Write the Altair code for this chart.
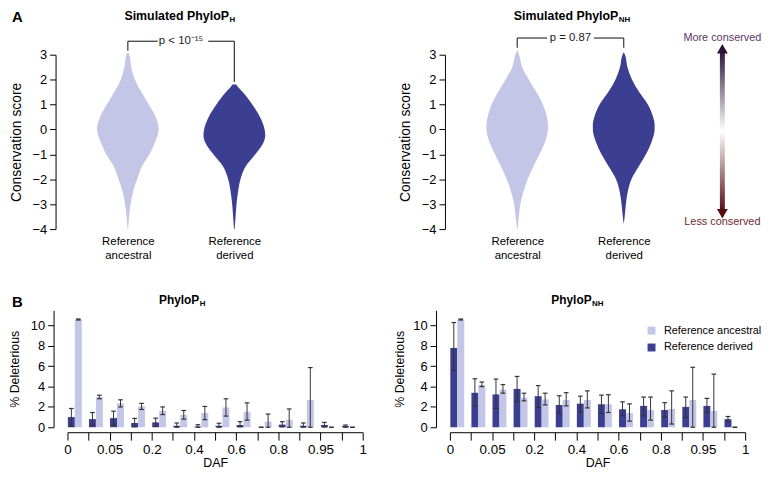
import altair as alt
import pandas as pd

FONT = "Liberation Sans"
LIGHT = "#c4c6e7"
DARK = "#3c3f91"

# ---------------- Panel A: violin outlines ----------------
categories = ["Reference ancestral", "Reference derived"]

h_anc_score = [3.1, 3.0, 2.5, 2.0, 1.5, 1.0, 0.5, 0.0, -0.5, -1.0, -1.5, -2.0, -2.5, -3.0, -3.5, -4.0]
h_anc_dens = [0.0, 0.05, 0.11, 0.23, 0.44, 0.68, 0.9, 1.0, 0.88, 0.7, 0.45, 0.3, 0.17, 0.09, 0.04, 0.01]
h_der_score = [1.8, 1.7, 1.5, 1.0, 0.5, 0.0, -0.25, -0.5, -1.0, -1.5, -2.0, -2.5, -3.0, -3.5, -4.0]
h_der_dens = [0.06, 0.12, 0.27, 0.58, 0.83, 0.98, 1.0, 0.95, 0.68, 0.36, 0.2, 0.12, 0.07, 0.04, 0.01]
nh_anc_score = [3.2, 3.0, 2.5, 2.0, 1.5, 1.0, 0.5, 0.1, -0.5, -1.0, -1.5, -2.0, -2.5, -3.0, -3.5, -4.0]
nh_anc_dens = [0.0, 0.06, 0.16, 0.38, 0.62, 0.83, 0.96, 1.0, 0.9, 0.72, 0.52, 0.34, 0.2, 0.1, 0.05, 0.01]
nh_der_score = [3.1, 3.0, 2.5, 2.0, 1.5, 1.0, 0.5, 0.2, 0.0, -0.5, -1.0, -1.5, -2.0, -2.5, -3.0, -3.5, -3.8]
nh_der_dens = [0.0, 0.04, 0.12, 0.27, 0.5, 0.78, 0.95, 1.0, 1.0, 0.9, 0.72, 0.48, 0.25, 0.13, 0.07, 0.03, 0.0]

score_ticks = [-4, -3, -2, -1, 0, 1, 2, 3]

# ---------------- Panel B: % deleterious by DAF bin ----------------
daf_labels = ["0", "0.05", "0.2", "0.4", "0.6", "0.8", "0.95", "1"]
daf_bins = list(range(14))

h_der = [1.0, 0.8, 0.9, 0.42, 0.48, 0.15, 0.07, 0.15, 0.22, 0.0, 0.26, 0.15, 0.22, 0.13]
h_der_lo = [0.1, 0.2, 0.2, 0.05, 0.1, 0.0, 0.0, 0.0, 0.05, 0.0, 0.05, 0.0, 0.02, 0.0]
h_der_hi = [1.85, 1.45, 1.58, 0.87, 0.9, 0.42, 0.25, 0.4, 0.55, 0.0, 0.55, 0.42, 0.48, 0.22]
h_anc = [10.6, 2.97, 2.35, 2.05, 1.62, 1.22, 1.4, 1.94, 1.52, 0.55, 0.74, 2.68, 0.0, 0.0]
h_anc_lo = [10.55, 2.8, 2.0, 1.75, 1.25, 0.8, 0.75, 1.1, 0.7, 0.0, 0.0, 0.0, 0.0, 0.0]
h_anc_hi = [10.65, 3.15, 2.7, 2.35, 2.0, 1.65, 2.05, 2.8, 2.4, 1.3, 1.8, 5.87, 0.0, 0.0]

nh_der = [7.8, 3.39, 3.23, 3.77, 3.06, 2.19, 2.32, 2.26, 1.77, 2.1, 1.7, 2.0, 2.1, 0.8]
nh_der_lo = [5.58, 2.1, 1.84, 2.5, 1.94, 1.4, 1.45, 1.35, 1.13, 1.13, 1.03, 0.97, 1.45, 0.55]
nh_der_hi = [10.3, 4.77, 4.74, 5.0, 4.1, 3.1, 3.06, 3.16, 2.5, 2.97, 2.42, 2.97, 2.84, 1.06]
nh_anc = [10.6, 4.16, 3.7, 2.9, 2.74, 2.68, 2.68, 2.26, 1.39, 1.7, 1.8, 2.68, 1.61, 0.0]
nh_anc_lo = [10.55, 4.0, 3.35, 2.6, 2.2, 2.1, 1.9, 1.45, 0.6, 0.7, 0.32, 0.0, 0.0, 0.0]
nh_anc_hi = [10.65, 4.45, 4.2, 3.35, 3.35, 3.4, 3.58, 3.2, 2.3, 2.97, 3.58, 5.9, 5.23, 0.0]
pct_ticks = [0, 2, 4, 6, 8, 10]

# ---------------- layout constants ----------------
WA, HA = 218, 176
WB, HB = 298, 118
XA = alt.Scale(domain=[-0.567, 1.461], nice=False, zero=False)
YA = alt.Scale(domain=[-4, 3], nice=False, zero=False)
XB = alt.Scale(domain=[0, 14], nice=False, zero=False)
YB = alt.Scale(domain=[0, 11.5], nice=False, zero=False)


def text_layer(txt, x, y, size, weight="normal", align="left", color="black"):
    return alt.Chart(pd.DataFrame({"t": [txt]})).mark_text(
        fontSize=size, fontWeight=weight, align=align, baseline="middle", color=color
    ).encode(text="t:N", x=alt.value(x), y=alt.value(y))


def violin_panel(pairs, ptext, y_bar, y_left, y_right, gap_l, gap_r, sub, letter=None, arrow=False):
    rows = []
    for g, (ss, dd) in enumerate(pairs):
        for s, d in zip(ss, dd):
            rows.append({"g": g, "score": s, "dens": d})
    df = pd.DataFrame(rows)
    base = alt.Chart(df).transform_calculate(
        left="datum.g - datum.dens * 0.29", right="datum.g + datum.dens * 0.29"
    )
    label_expr = "split(" + str(categories) + "[datum.value], ' ')"
    xaxis = alt.Axis(values=[0, 1], tickCount=2, labelExpr=label_expr, domain=False, ticks=False,
                     labelPadding=7, labelFontSize=11.5, labelLineHeight=13.5, labelAngle=0,
                     grid=False, title=None, labelFlush=False, labelOverlap=False)
    yaxis = alt.Axis(values=score_ticks, tickCount=len(score_ticks), offset=12, tickSize=6,
                     labelPadding=3, labelFontSize=13, labelOverlap=False, labelFlush=False,
                     labelBound=False, title="Conservation score", titleFontSize=14,
                     titleFontWeight="normal", titlePadding=9, grid=False)
    layers = []
    for g, col in [(0, LIGHT), (1, DARK)]:
        layers.append(
            base.transform_filter(f"datum.g == {g}").mark_area(
                orient="horizontal", interpolate="monotone", color=col
            ).encode(
                y=alt.Y("score:Q", scale=YA, axis=yaxis),
                x=alt.X("left:Q", scale=XA, axis=xaxis, stack=None),
                x2="right:Q",
            )
        )
    br = pd.DataFrame({
        "x": [0, 0, gap_r, 1], "x2": [0, gap_l, 1, 1],
        "y": [y_left, y_bar, y_bar, y_right], "y2": [y_bar, y_bar, y_bar, y_bar],
    })
    layers.append(alt.Chart(br).mark_rule(color="#333333", strokeWidth=1.2).encode(
        x=alt.X("x:Q", scale=XA, axis=xaxis), x2="x2:Q",
        y=alt.Y("y:Q", scale=YA, axis=yaxis), y2="y2:Q"))
    pt = pd.DataFrame({"x": [0.5], "y": [y_bar], "t": [ptext]})
    layers.append(alt.Chart(pt).mark_text(fontSize=11.5, baseline="middle", color="#222").encode(
        x=alt.X("x:Q", scale=XA, axis=xaxis), y=alt.Y("y:Q", scale=YA, axis=yaxis), text="t:N"))
    layers.append(text_layer("Simulated PhyloP", 163, -39, 12.5, "bold", "right"))
    layers.append(text_layer(sub, 163.5, -35, 8, "bold", "left"))
    if letter:
        layers.append(text_layer(letter, -56, -38, 15, "bold", "left"))
    if arrow:
        grad = alt.Gradient(gradient="linear", x1=0, x2=0, y1=0, y2=1, stops=[
            alt.GradientStop(color="#2c1236", offset=0),
            alt.GradientStop(color="#ffffff", offset=0.5),
            alt.GradientStop(color="#560c12", offset=1),
        ])
        one = pd.DataFrame({"k": [0]})
        layers.append(alt.Chart(one).mark_rect(fill=grad).encode(
            x=alt.value(265.5), x2=alt.value(270.5), y=alt.value(-4), y2=alt.value(158)))
        layers.append(alt.Chart(one).mark_point(shape="triangle-up", filled=True, size=120,
                                                 color="#2c1236", opacity=1).encode(
            x=alt.value(268), y=alt.value(-6)))
        layers.append(alt.Chart(one).mark_point(shape="triangle-down", filled=True, size=120,
                                                 color="#560c12", opacity=1).encode(
            x=alt.value(268), y=alt.value(160.5)))
        layers.append(text_layer("More conserved", 268, -17, 11, "normal", "center", "#5b3466"))
        layers.append(text_layer("Less conserved", 268, 169, 11, "normal", "center", "#6e2b2f"))
    return alt.layer(*layers).properties(width=WA, height=HA)


def bar_panel(der, der_lo, der_hi, anc, anc_lo, anc_hi, sub, title_end, letter=None,
              legend=False, ytitle_pad=6):
    rows = []
    for i in daf_bins:
        rows.append({"bin": i, "series": categories[1], "v": der[i], "lo": der_lo[i], "hi": der_hi[i]})
        rows.append({"bin": i, "series": categories[0], "v": anc[i], "lo": anc_lo[i], "hi": anc_hi[i]})
    df = pd.DataFrame(rows)
    base = alt.Chart(df).transform_calculate(
        off="datum.series == 'Reference derived' ? 0.02 : 0.35"
    ).transform_calculate(
        x0="datum.bin + datum.off", x1="datum.bin + datum.off + 0.33",
        xc="datum.bin + datum.off + 0.165",
        cl="datum.bin + datum.off + 0.165 - 0.11", cr="datum.bin + datum.off + 0.165 + 0.11",
        zero="0",
    )
    label_expr = "datum.value % 2 == 0 ? " + str(daf_labels) + "[datum.value / 2] : ''"
    xaxis = alt.Axis(values=list(range(15)), tickCount=15, labelExpr=label_expr, offset=5,
                     tickSize=8, labelPadding=2, labelFontSize=13.5, labelFlush=False,
                     labelOverlap=False, labelBound=False,
                     title="DAF", titleFontSize=12.5, titleFontWeight="normal", titlePadding=1,
                     grid=False)
    yaxis = alt.Axis(values=pct_ticks, tickCount=len(pct_ticks), offset=14, tickSize=6,
                     labelPadding=3, labelFontSize=13, labelOverlap=False, labelFlush=False,
                     labelBound=False,
                     title="% Deleterious", titleFontSize=12.5, titleFontWeight="normal",
                     titlePadding=ytitle_pad, grid=False)
    if legend:
        leg = alt.Legend(orient="none", legendX=198, legendY=15, title=None, symbolType="square",
                         symbolSize=64, symbolStrokeWidth=0, labelFontSize=11, labelOffset=7,
                         rowPadding=5, labelColor="black", padding=0)
    else:
        leg = None
    bars = base.mark_rect().encode(
        x=alt.X("x0:Q", scale=XB, axis=xaxis), x2="x1:Q",
        y=alt.Y("v:Q", scale=YB, axis=yaxis), y2="zero:Q",
        color=alt.Color("series:N", scale=alt.Scale(domain=categories, range=[LIGHT, DARK]),
                        legend=leg, sort=categories),
    )
    err = base.mark_rule(color="#333333", strokeWidth=1).encode(
        x=alt.X("xc:Q", scale=XB, axis=xaxis), y=alt.Y("lo:Q", scale=YB, axis=yaxis), y2="hi:Q")
    cap_lo = base.mark_rule(color="#333333", strokeWidth=1.2).encode(
        x=alt.X("cl:Q", scale=XB, axis=xaxis), x2="cr:Q", y=alt.Y("lo:Q", scale=YB, axis=yaxis))
    cap_hi = base.mark_rule(color="#333333", strokeWidth=1.2).encode(
        x=alt.X("cl:Q", scale=XB, axis=xaxis), x2="cr:Q", y=alt.Y("hi:Q", scale=YB, axis=yaxis))
    layers = [bars, err, cap_lo, cap_hi,
              text_layer("PhyloP", title_end, -10, 12, "bold", "right"),
              text_layer(sub, title_end + 0.5, -6, 8, "bold", "left")]
    if letter:
        layers.append(text_layer(letter, -56, -8, 15, "bold", "left"))
    return alt.layer(*layers).properties(width=WB, height=HB)


a_left = violin_panel([(h_anc_score, h_anc_dens), (h_der_score, h_der_dens)],
                      "p < 10\u207b\u00b9\u2075", 3.54, 3.16, 1.9, 0.28, 0.755, "H", letter="A")
a_right = violin_panel([(nh_anc_score, nh_anc_dens), (nh_der_score, nh_der_dens)],
                       "p = 0.87", 3.67, 3.28, 3.28, 0.28, 0.72, "NH", arrow=True)
b_left = bar_panel(h_der, h_der_lo, h_der_hi, h_anc, h_anc_lo, h_anc_hi, "H", 133, letter="B",
                   ytitle_pad=9)
b_right = bar_panel(nh_der, nh_der_lo, nh_der_hi, nh_anc, nh_anc_lo, nh_anc_hi, "NH", 143,
                    legend=True)

top = alt.hconcat(a_left, a_right, spacing=116)
bottom = alt.hconcat(b_left, b_right, spacing=27).resolve_scale(color="independent")

chart = alt.vconcat(top, bottom, spacing=34).resolve_scale(color="independent").properties(
    padding={"left": 0, "top": 0, "right": 0, "bottom": 0}
).configure(font=FONT).configure_view(stroke=None).configure_axis(
    domainColor="black", tickColor="black", labelColor="black", titleColor="black",
    labelFont=FONT, titleFont=FONT
)

chart.save("out.html", embed_options={"renderer": "svg", "actions": False})
